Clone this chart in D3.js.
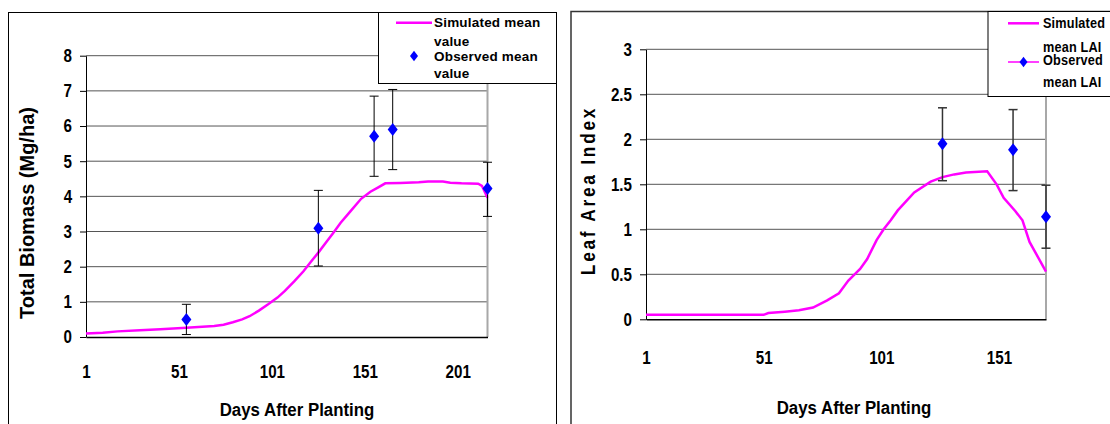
<!DOCTYPE html>
<html>
<head>
<meta charset="utf-8">
<script src="https://cdn.jsdelivr.net/npm/d3@7"></script>
<style>
  body { margin: 0; background: #fff; }
  svg { display: block; }
  text { font-family: "Liberation Sans", Arial, sans-serif; font-weight: bold; fill: #000; }
  .tick text { font-size: 18.5px; transform-box: fill-box; transform: scaleX(0.82); }
  .yax .tick text { transform-origin: right center; }
  .xax .tick text { transform-origin: center center; }
  .narrow { transform-box: fill-box; transform-origin: left center; transform: scaleX(0.82); }
  .mid { transform-box: fill-box; transform-origin: center center; }
</style>
</head>
<body>
<svg id="chart" width="1110" height="424"></svg>
<script>
// ---- biomass chart (left) ----
const biomassDays = [1, 10, 18, 30, 41, 55, 70, 75, 80, 85, 89, 94, 99, 104, 108, 113, 118, 122, 126, 130, 134, 138, 143, 149, 154, 158, 162, 170, 180, 185, 193, 197, 203, 212, 214, 217];
const biomassSim  = [0.10, 0.12, 0.16, 0.19, 0.22, 0.26, 0.31, 0.35, 0.42, 0.50, 0.59, 0.75, 0.93, 1.12, 1.31, 1.58, 1.87, 2.14, 2.40, 2.68, 2.96, 3.25, 3.56, 3.93, 4.13, 4.25, 4.37, 4.38, 4.40, 4.42, 4.42, 4.39, 4.37, 4.36, 4.30, 3.96];
const biomassObsDays = [55, 126, 156, 166, 217];
const biomassObs     = [0.50, 3.09, 5.71, 5.90, 4.22];
const biomassObsLow  = [0.07, 2.02, 4.57, 4.76, 3.43];
const biomassObsHigh = [0.93, 4.17, 6.85, 7.04, 4.97];
const biomassTicks = [0, 1, 2, 3, 4, 5, 6, 7, 8];
const biomassDayTicks = [1, 51, 101, 151, 201];

// ---- leaf area index chart (right) ----
const laiDays = [1, 51, 53, 60, 66, 72, 78, 83, 87, 92, 95, 99, 102, 105, 108, 115, 122, 127, 132, 137, 146, 150, 153, 158, 161, 164, 171];
const laiSim  = [0.05, 0.05, 0.07, 0.085, 0.10, 0.13, 0.21, 0.29, 0.43, 0.56, 0.67, 0.88, 1.00, 1.10, 1.21, 1.41, 1.53, 1.58, 1.61, 1.63, 1.645, 1.50, 1.35, 1.20, 1.10, 0.86, 0.53];
const laiObsDays = [127, 157, 171];
const laiObs     = [1.95, 1.885, 1.14];
const laiObsLow  = [1.54, 1.43, 0.79];
const laiObsHigh = [2.35, 2.33, 1.49];
const laiTicks = [0, 0.5, 1, 1.5, 2, 2.5, 3];
const laiDayTicks = [1, 51, 101, 151];

const svg = d3.select("#chart");
const diamond = "M0,-6.5L5,0L0,6.5L-5,0Z";

function drawChart(o) {
  // outer frame
  svg.append("rect")
    .attr("x", o.frame[0]).attr("y", o.frame[1])
    .attr("width", o.frame[2]).attr("height", o.frame[3])
    .attr("fill", "none").attr("stroke", o.frameColor).attr("stroke-width", o.frameWidth);

  const x = d3.scaleLinear().domain([1, o.lastDay]).range([o.left, o.right]);
  const y = d3.scaleLinear().domain([0, d3.max(o.yTicks)]).range([o.bottom, o.top]);
  const g = svg.append("g");

  // gridlines
  g.selectAll("line.grid")
    .data(o.yTicks.filter(d => d > 0))
    .enter().append("line")
    .attr("x1", o.left).attr("x2", o.right)
    .attr("y1", d => y(d)).attr("y2", d => y(d))
    .attr("stroke", "#555").attr("stroke-width", 1);

  // right plot border
  g.append("line")
    .attr("x1", o.right).attr("x2", o.right)
    .attr("y1", o.top).attr("y2", o.bottom)
    .attr("stroke", "#a8a8a8").attr("stroke-width", 2);

  // y axis
  const ya = g.append("g")
    .attr("class", "yax")
    .attr("transform", `translate(${o.left},0)`)
    .call(d3.axisLeft(y).tickValues(o.yTicks).tickSize(6).tickPadding(8).tickSizeOuter(0)
      .tickFormat(d3.format("")));
  ya.selectAll("line").attr("stroke", "#000");
  ya.select(".domain").attr("stroke", "#000");

  // x axis
  const xa = g.append("g")
    .attr("class", "xax")
    .attr("transform", `translate(0,${o.bottom})`)
    .call(d3.axisBottom(x).tickValues(o.xTicks).tickSize(0).tickPadding(o.xPad).tickFormat(d3.format("d")));
  xa.select(".domain").attr("stroke", "#000").attr("stroke-width", 1.5);

  // simulated line
  const pts = o.simDays.map((d, i) => [d, o.sim[i]]);
  g.append("path")
    .datum(pts)
    .attr("fill", "none")
    .attr("stroke", "#ff00ff")
    .attr("stroke-width", 2.5)
    .attr("d", d3.line().x(d => x(d[0])).y(d => y(d[1])));

  // observed with error bars
  const obs = o.obsDays.map((d, i) => ({ day: d, v: o.obs[i], lo: o.obsLow[i], hi: o.obsHigh[i] }));
  const eb = g.selectAll("g.eb").data(obs).enter().append("g")
    .attr("stroke", o.errColor).attr("stroke-width", o.errWidth);
  eb.append("line")
    .attr("x1", d => x(d.day)).attr("x2", d => x(d.day))
    .attr("y1", d => y(d.lo)).attr("y2", d => y(d.hi));
  eb.append("line")
    .attr("x1", d => x(d.day) - 4.5).attr("x2", d => x(d.day) + 4.5)
    .attr("y1", d => y(d.lo)).attr("y2", d => y(d.lo));
  eb.append("line")
    .attr("x1", d => x(d.day) - 4.5).attr("x2", d => x(d.day) + 4.5)
    .attr("y1", d => y(d.hi)).attr("y2", d => y(d.hi));
  g.selectAll("path.obs").data(obs).enter().append("path")
    .attr("d", diamond)
    .attr("fill", "#0000ff")
    .attr("transform", d => `translate(${x(d.day)},${y(d.v)})`);

  // axis titles
  svg.append("g")
    .attr("transform", `translate(${o.yTitlePos[0]},${o.yTitlePos[1]}) rotate(-90)`)
    .append("text")
    .attr("class", "mid")
    .attr("text-anchor", "middle")
    .style("font-size", o.yTitleSize + "px")
    .style("letter-spacing", o.yTitleSpacing + "px")
    .style("transform", `scaleX(${o.yTitleScale})`)
    .text(o.yTitle);
  svg.append("text")
    .attr("class", "mid")
    .attr("x", o.xTitlePos[0]).attr("y", o.xTitlePos[1])
    .attr("text-anchor", "middle")
    .style("font-size", "18.5px")
    .style("transform", "scaleX(0.91)")
    .text("Days After Planting");

  // legend
  const L = o.legend;
  svg.append("rect")
    .attr("x", L.box[0]).attr("y", L.box[1]).attr("width", L.box[2]).attr("height", L.box[3])
    .attr("fill", "#fff").attr("stroke", "#000").attr("stroke-width", 1);
  svg.append("line")
    .attr("x1", L.lineX[0]).attr("x2", L.lineX[1])
    .attr("y1", L.lineY[0]).attr("y2", L.lineY[0])
    .attr("stroke", "#ff00ff").attr("stroke-width", 2.5);
  if (L.obsLine) {
    svg.append("line")
      .attr("x1", L.lineX[0]).attr("x2", L.lineX[1])
      .attr("y1", L.lineY[1]).attr("y2", L.lineY[1])
      .attr("stroke", "#ff00ff").attr("stroke-width", 1.5);
  }
  svg.append("path")
    .attr("d", diamond)
    .attr("fill", "#0000ff")
    .attr("transform", `translate(${(L.lineX[0] + L.lineX[1]) / 2},${L.lineY[1]}) scale(0.8)`);
  L.lines.forEach((t, i) => {
    svg.append("text")
      .attr("class", L.narrow ? "narrow" : null)
      .attr("x", L.textX).attr("y", L.baselines[i])
      .style("font-size", L.size + "px")
      .style("letter-spacing", "0.2px")
      .text(t);
  });
}

drawChart({
  frame: [8.5, 12.5, 548, 430], frameColor: "#000", frameWidth: 1,
  left: 86, right: 487.5, top: 55.7, bottom: 337,
  lastDay: 217, yTicks: biomassTicks, xTicks: biomassDayTicks, xPad: 27.5,
  simDays: biomassDays, sim: biomassSim,
  obsDays: biomassObsDays, obs: biomassObs, obsLow: biomassObsLow, obsHigh: biomassObsHigh,
  errColor: "#000", errWidth: 1,
  yTitle: "Total Biomass (Mg/ha)", yTitlePos: [33.5, 213], yTitleSize: 20, yTitleSpacing: 0, yTitleScale: 1,
  xTitlePos: [297, 416],
  legend: {
    box: [378.5, 12.5, 178, 71],
    lineX: [396, 432], lineY: [22.7, 56], obsLine: false,
    textX: 434, baselines: [27, 45.7, 61, 77.7],
    lines: ["Simulated mean", "value", "Observed mean", "value"],
    narrow: false, size: 13.5
  }
});

drawChart({
  frame: [571, 11.5, 560, 430], frameColor: "#333", frameWidth: 1.5,
  left: 646, right: 1046, top: 49.3, bottom: 319.3,
  lastDay: 171, yTicks: laiTicks, xTicks: laiDayTicks, xPad: 31.9,
  simDays: laiDays, sim: laiSim,
  obsDays: laiObsDays, obs: laiObs, obsLow: laiObsLow, obsHigh: laiObsHigh,
  errColor: "#333", errWidth: 1.5,
  yTitle: "Leaf Area Index", yTitlePos: [595, 190.5], yTitleSize: 21, yTitleSpacing: 3.4, yTitleScale: 0.82,
  xTitlePos: [854, 414],
  legend: {
    box: [988, 11.5, 130, 85],
    lineX: [1008, 1039], lineY: [23.3, 62], obsLine: true,
    textX: 1043, baselines: [28, 51.7, 65, 87.3],
    lines: ["Simulated", "mean LAI", "Observed", "mean LAI"],
    narrow: true, size: 15.5
  }
});
</script>
</body>
</html>
